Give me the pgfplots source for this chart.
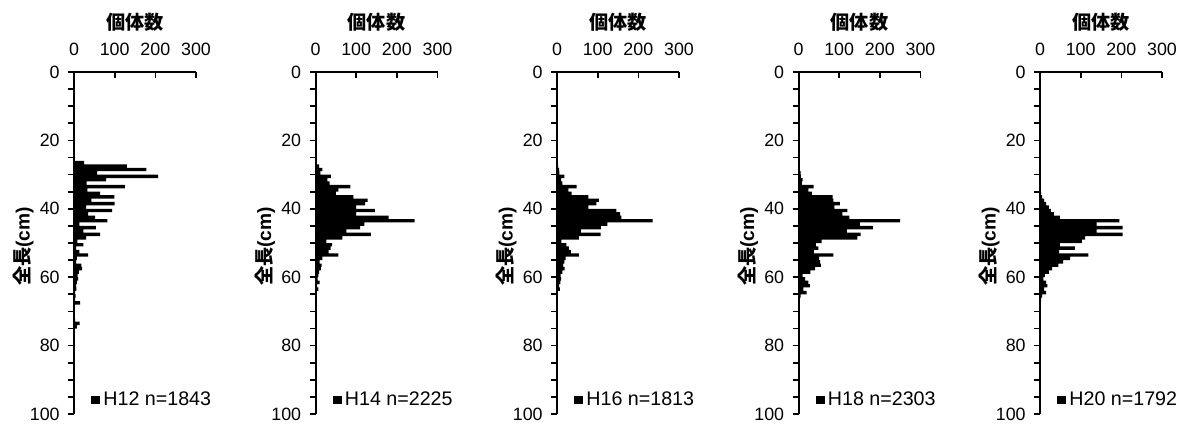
\documentclass[border=0pt]{standalone}
\usepackage{pgfplots}
\pgfplotsset{compat=1.18}
\usepackage{fontspec}
\setmainfont{Liberation Sans}
\newfontfamily\cjk{Noto Sans CJK JP}

\pgfplotsset{
  panel/.style={
    scale only axis, width=73.2pt, height=205.2pt,
    anchor=south west, clip=false,
    xmin=0, xmax=300, ymin=0, ymax=100, y dir=reverse,
    axis line style={draw=none},
    xtick pos=right, ytick pos=left, xticklabel pos=right,
    xtick={0,100,200,300}, ytick={0,20,...,100}, minor ytick={5,10,...,95},
    every tick/.style={black, line width=1pt},
    major tick length=3.6pt, minor tick length=3.6pt,
    xtick align=inside, ytick align=outside,
    tick label style={font=\fontsize{10.7}{12}\selectfont},
    yticklabel style={xshift=-1.5pt},
    xticklabel style={yshift=6.5pt},
    /pgf/number format/assume math mode=true,
    xlabel={\bfseries\cjk 個体数},
    ylabel={\bfseries{\cjk 全長}(cm)},
    label style={font=\fontsize{11.5}{13}\selectfont},
    xlabel style={at={(axis description cs:0.5,1.146)}, anchor=center},
    ylabel style={at={(axis description cs:-0.415,0.49)}, anchor=center, rotate=0},
    legend style={draw=none, fill=none, inner sep=0pt,
      at={(axis description cs:0.14,0.041)}, anchor=west,
      font=\fontsize{11.8}{13}\selectfont},
    legend image code/.code={\fill[black] (0pt,-2.6pt) rectangle (5.2pt,2.6pt);},
  },
  bars/.style={xbar, fill=black, draw=none, bar width=1, bar shift=0pt},
}
\newcommand{\axisframe}{\draw[line width=1.2pt] (axis cs:0,100) -- (axis cs:0,0) -- (axis cs:300,0);}

\begin{document}
\begin{tikzpicture}
\useasboundingbox (0pt,0pt) rectangle (710.4pt,255pt);

% H12
\begin{axis}[panel, at={(44.4pt,6.6pt)}]
\addplot[bars] coordinates {
(25,26.5) (130,27.5) (178,28.5) (57,29.5) (207,30.5) (79,31.5) (31,32.5) (125,33.5)
(33,34.5) (64,35.5) (99,36.5) (43,37.5) (100,38.5) (30,39.5) (94,40.5) (35,41.5)
(52,42.5) (82,43.5) (13,44.5) (54,45.5) (23,46.5) (64,47.5) (30,48.5) (8,49.5)
(23,50.5) (5,51.5) (13,52.5) (35,53.5) (7,54.5) (5,55.5) (18,56.5) (20,57.5)
(12,58.5) (9,59.5) (10,60.5) (7,61.5) (5,62.5) (6,63.5) (3,64.5) (4,65.5)
(3,66.5) (15,67.5) (2,68.5) (1,69.5) (2,70.5) (1,71.5) (3,72.5) (14,73.5)
(7,74.5) (2,75.5) (1,76.5)
};
\addlegendentry{H12 n=1843}
\axisframe
\end{axis}

% H14
\begin{axis}[panel, at={(189.3pt,6.6pt)}]
\addplot[bars] coordinates {
(3,26.5) (9,27.5) (17,28.5) (12,29.5) (38,30.5) (29,31.5) (35,32.5) (86,33.5)
(56,34.5) (50,35.5) (93,36.5) (128,37.5) (122,38.5) (100,39.5) (146,40.5) (100,41.5)
(180,42.5) (244,43.5) (120,44.5) (110,45.5) (76,46.5) (136,47.5) (66,48.5) (27,49.5)
(41,50.5) (37,51.5) (32,52.5) (56,53.5) (17,54.5) (10,55.5) (15,56.5) (13,57.5)
(9,58.5) (7,59.5) (5,60.5) (10,61.5) (4,62.5) (7,63.5) (3,64.5) (2,65.5)
(1,66.5) (1,68.5) (2,73.5)
};
\addlegendentry{H14 n=2225}
\axisframe
\end{axis}

% H16
\begin{axis}[panel, at={(334.2pt,6.6pt)}]
\addplot[bars] coordinates {
(3,27.5) (5,28.5) (6,29.5) (18,30.5) (10,31.5) (13,32.5) (48,33.5) (28,34.5)
(36,35.5) (77,36.5) (103,37.5) (97,38.5) (77,39.5) (146,40.5) (155,41.5) (158,42.5)
(235,43.5) (124,44.5) (108,45.5) (59,46.5) (107,47.5) (54,48.5) (11,49.5) (23,50.5)
(29,51.5) (34,52.5) (54,53.5) (21,54.5) (18,55.5) (15,56.5) (19,57.5) (13,58.5)
(9,59.5) (10,60.5) (8,61.5) (5,62.5) (7,63.5) (2,64.5) (1,65.5) (1,72.5)
};
\addlegendentry{H16 n=1813}
\axisframe
\end{axis}

% H18
\begin{axis}[panel, at={(479.1pt,6.6pt)}]
\addplot[bars] coordinates {
(2,27.5) (3,28.5) (5,29.5) (6,30.5) (10,31.5) (8,32.5) (37,33.5) (24,34.5)
(33,35.5) (84,36.5) (86,37.5) (102,38.5) (88,39.5) (120,40.5) (108,41.5) (125,42.5)
(250,43.5) (151,44.5) (183,45.5) (119,46.5) (153,47.5) (145,48.5) (57,49.5) (43,50.5)
(49,51.5) (38,52.5) (86,53.5) (51,54.5) (53,55.5) (55,56.5) (41,57.5) (29,58.5)
(10,59.5) (16,60.5) (24,61.5) (28,62.5) (12,63.5) (20,64.5) (5,65.5) (3,66.5)
(2,67.5) (1,68.5)
};
\addlegendentry{H18 n=2303}
\axisframe
\end{axis}

% H20
\begin{axis}[panel, at={(624.0pt,6.6pt)}]
\addplot[bars] coordinates {
(3,35.5) (5,36.5) (10,37.5) (15,38.5) (22,39.5) (27,40.5) (34,41.5) (49,42.5)
(195,43.5) (139,44.5) (203,45.5) (139,46.5) (203,47.5) (111,48.5) (103,49.5) (49,50.5)
(86,51.5) (47,52.5) (119,53.5) (74,54.5) (57,55.5) (45,56.5) (30,57.5) (22,58.5)
(12,59.5) (8,60.5) (15,61.5) (18,62.5) (10,63.5) (15,64.5) (5,65.5) (3,66.5)
};
\addlegendentry{H20 n=1792}
\axisframe
\end{axis}
\end{tikzpicture}
\end{document}
